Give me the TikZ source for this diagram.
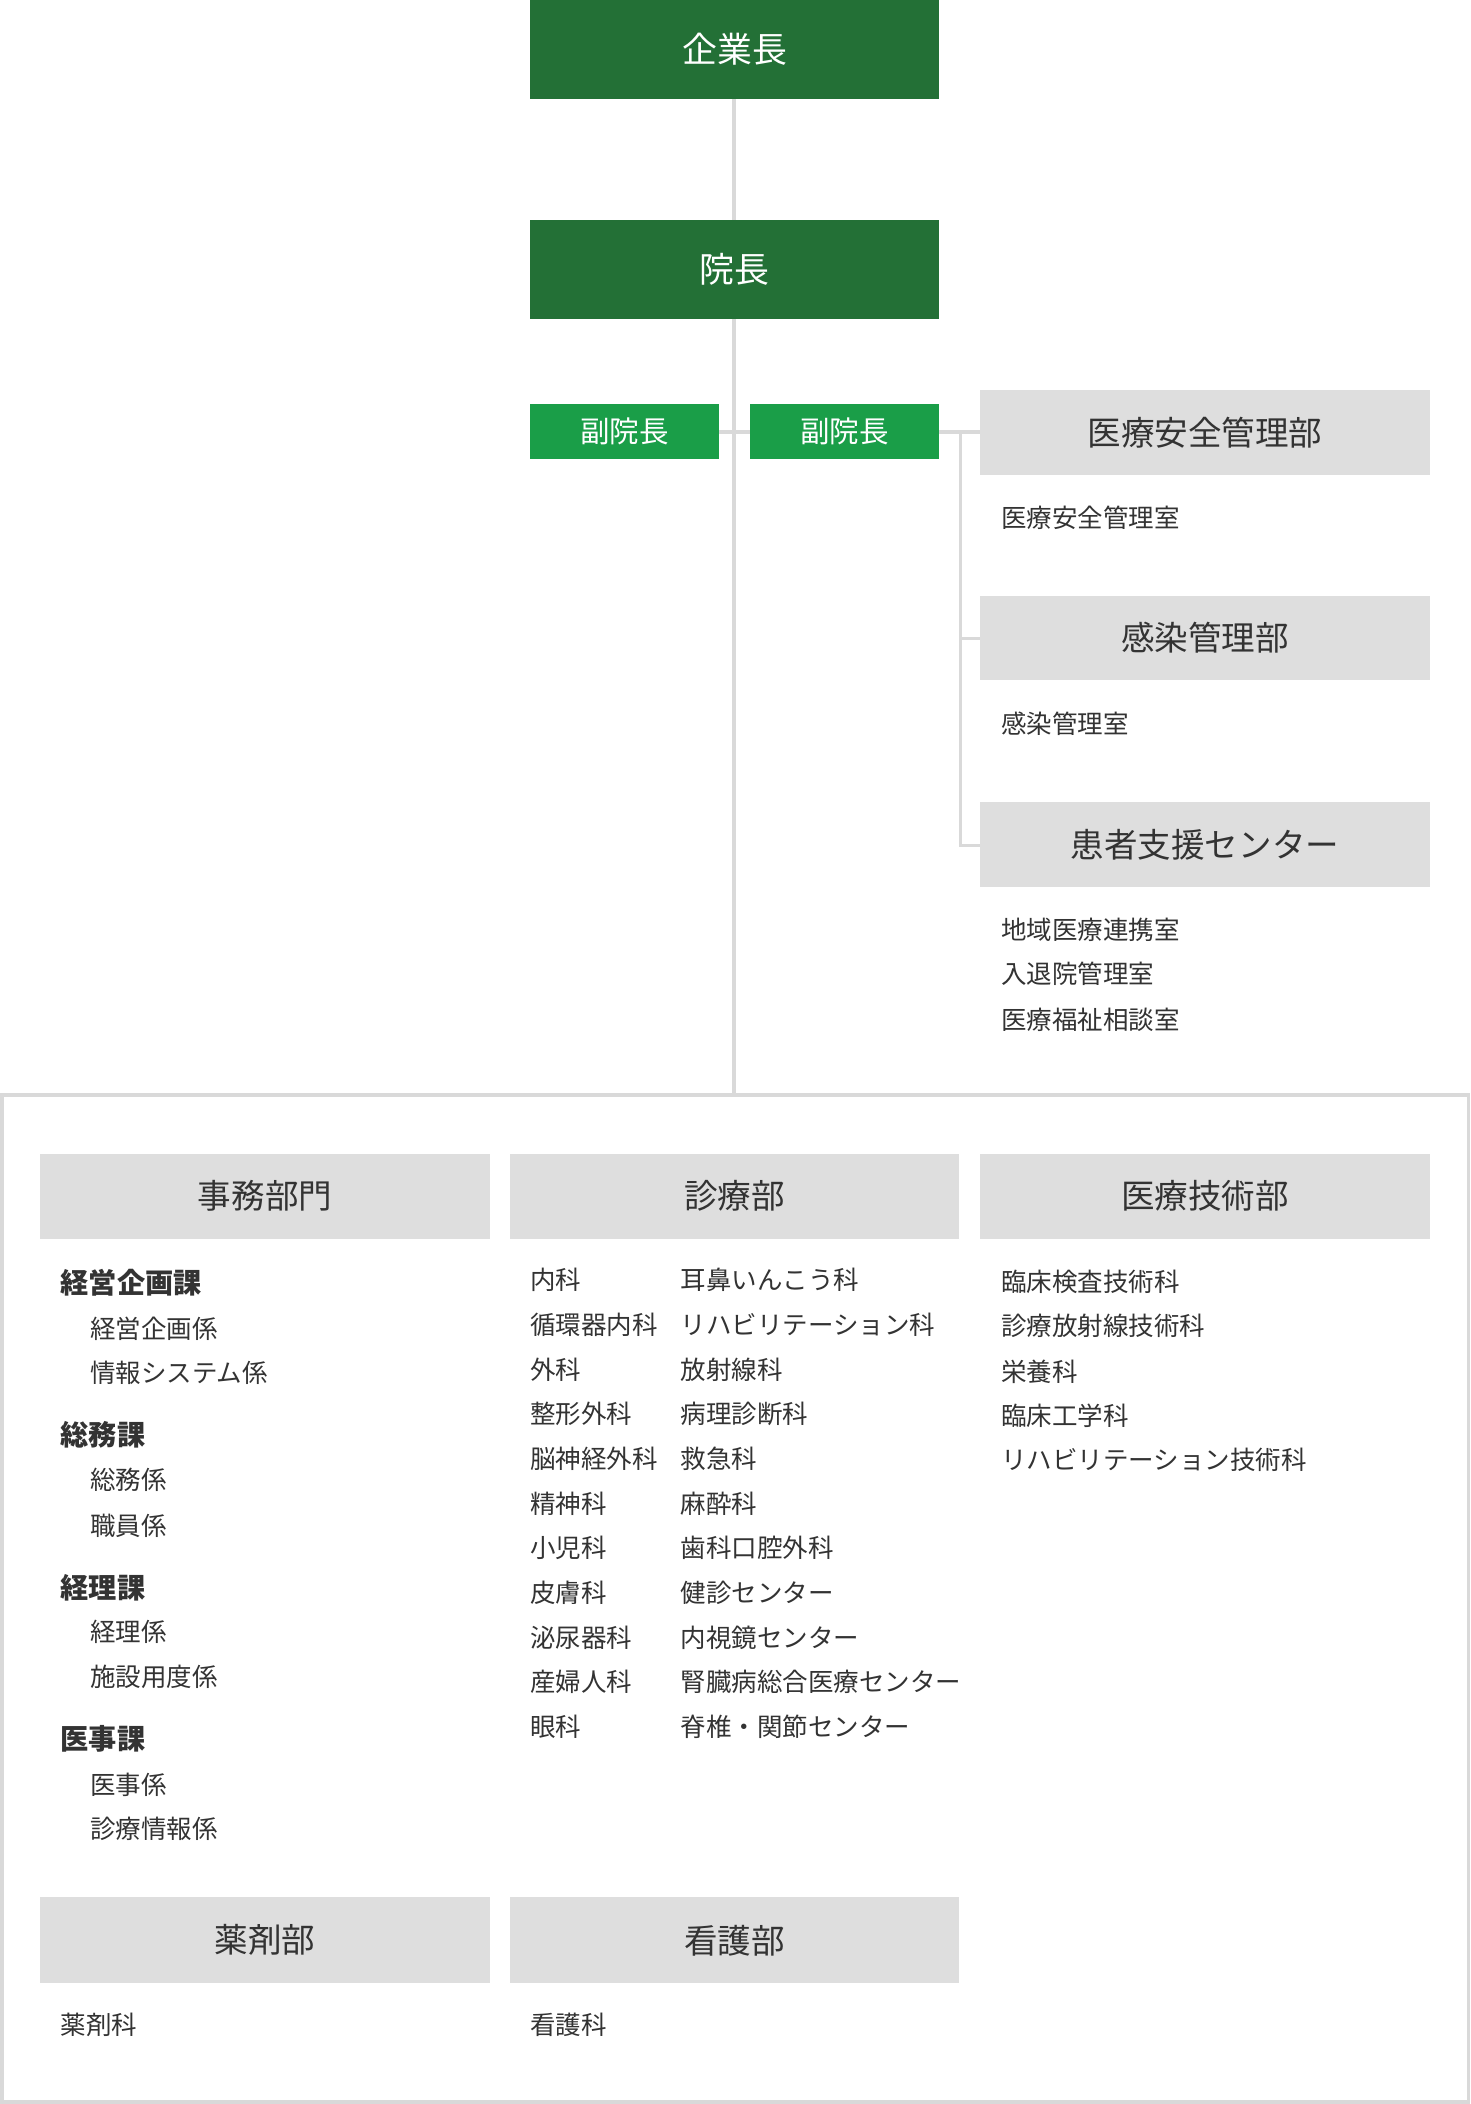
\documentclass[tikz,border=0pt]{standalone}
\usepackage{fontspec}
\setmainfont{Noto Sans CJK JP}
\definecolor{dg}{HTML}{237036}
\definecolor{bg}{HTML}{1A9E48}
\definecolor{hd}{HTML}{DEDEDE}
\definecolor{ln}{HTML}{D9D9D9}
\definecolor{tx}{HTML}{333333}
\begin{document}
\begin{tikzpicture}[x=1pt,y=-1pt,
 top/.style={fill=dg,text=white,font=\fontsize{26}{30}\selectfont},
 vice/.style={fill=bg,text=white,font=\fontsize{22}{26}\selectfont},
 hdr/.style={fill=hd,text=tx,font=\fontsize{25}{30}\selectfont},
 it/.style={anchor=west,text=tx,font=\fontsize{19}{23}\selectfont,inner sep=0pt},
 bit/.style={anchor=west,text=tx,font=\fontsize{21}{25}\selectfont\bfseries,inner sep=0pt},
 conn/.style={draw=ln,line width=2.5pt}]
\useasboundingbox (0,0) rectangle (1096,1568);
\fill[white] (0,0) rectangle (1096,1568);
% connectors first
\coordinate (ltop) at (547,74);
\coordinate (lbot) at (547,816);
\draw[conn] (ltop) -- (lbot);
\coordinate (b1) at (716,322);
\coordinate (b2) at (716,630);
\draw[conn] (536,322) -- (559,322);
\draw[conn] (700,322) -- (730,322);
\draw[conn] (b1) -- (b2) -- (730,630);
\draw[conn] (716,476) -- (730,476);
\draw[draw=ln,line width=2.5pt] (1.5,816) rectangle (1094.5,1566.5);
% top boxes
\node[top,minimum width=305pt,minimum height=74pt] (ceo) at (547.5,37) {企業長};
\node[top,minimum width=305pt,minimum height=74pt] (dir) at (547.5,201) {院長};
\node[vice,minimum width=141pt,minimum height=41pt] (v1) at (465.5,321.5) {副院長};
\node[vice,minimum width=141pt,minimum height=41pt] (v2) at (629.5,321.5) {副院長};
% right headers
\node[hdr,minimum width=336pt,minimum height=63pt] (h1) at (898,322.5) {医療安全管理部};
\node[hdr,minimum width=336pt,minimum height=63pt] (h2) at (898,475.5) {感染管理部};
\node[hdr,minimum width=336pt,minimum height=63pt] (h3) at (898,629.5) {患者支援センター};
\node[it] (r1) at (746,386) {医療安全管理室};
\node[it] (r2) at (746,539) {感染管理室};
\node[it] (r3) at (746,693) {地域医療連携室};
\node[it] (r4) at (746,726) {入退院管理室};
\node[it] (r5) at (746,760) {医療福祉相談室};
% bottom headers
\node[hdr,minimum width=335pt,minimum height=63pt] (j) at (197.5,891.5) {事務部門};
\node[hdr,minimum width=335pt,minimum height=63pt] (s) at (547.5,891.5) {診療部};
\node[hdr,minimum width=336pt,minimum height=63pt] (g) at (898,891.5) {医療技術部};
\node[hdr,minimum width=335pt,minimum height=64pt] (y) at (197.5,1446) {薬剤部};
\node[hdr,minimum width=335pt,minimum height=64pt] (k) at (547.5,1446) {看護部};
% left column
\node[bit] (a1) at (45,956) {経営企画課};
\node[it] (a2) at (67,990) {経営企画係};
\node[it] (a3) at (67,1023) {情報システム係};
\node[bit] (a4) at (45,1069) {総務課};
\node[it] (a5) at (67,1103) {総務係};
\node[it] (a6) at (67,1137) {職員係};
\node[bit] (a7) at (45,1183) {経理課};
\node[it] (a8) at (67,1216) {経理係};
\node[it] (a9) at (67,1250) {施設用度係};
\node[bit] (a10) at (45,1296) {医事課};
\node[it] (a11) at (67,1330) {医事係};
\node[it] (a12) at (67,1363) {診療情報係};
% middle column
\foreach \n/\a/\b [count=\i from 0] in {m0/内科/耳鼻いんこう科,m1/循環器内科/リハビリテーション科,m2/外科/放射線科,m3/整形外科/病理診断科,m4/脳神経外科/救急科,m5/精神科/麻酔科,m6/小児科/歯科口腔外科,m7/皮膚科/健診センター,m8/泌尿器科/内視鏡センター,m9/産婦人科/腎臓病総合医療センター,m10/眼科/脊椎・関節センター}{
 \node[it] (\n a) at (395,{954+33.3*\i}) {\a};
 \node[it] (\n b) at (507,{954+33.3*\i}) {\b};
}
% right column
\node[it] (t1) at (746,955) {臨床検査技術科};
\node[it] (t2) at (746,988) {診療放射線技術科};
\node[it] (t3) at (746,1022) {栄養科};
\node[it] (t4) at (746,1055) {臨床工学科};
\node[it] (t5) at (746,1088) {リハビリテーション技術科};
\node[it] (p1) at (45,1509) {薬剤科};
\node[it] (p2) at (395,1509) {看護科};
\end{tikzpicture}
\end{document}
